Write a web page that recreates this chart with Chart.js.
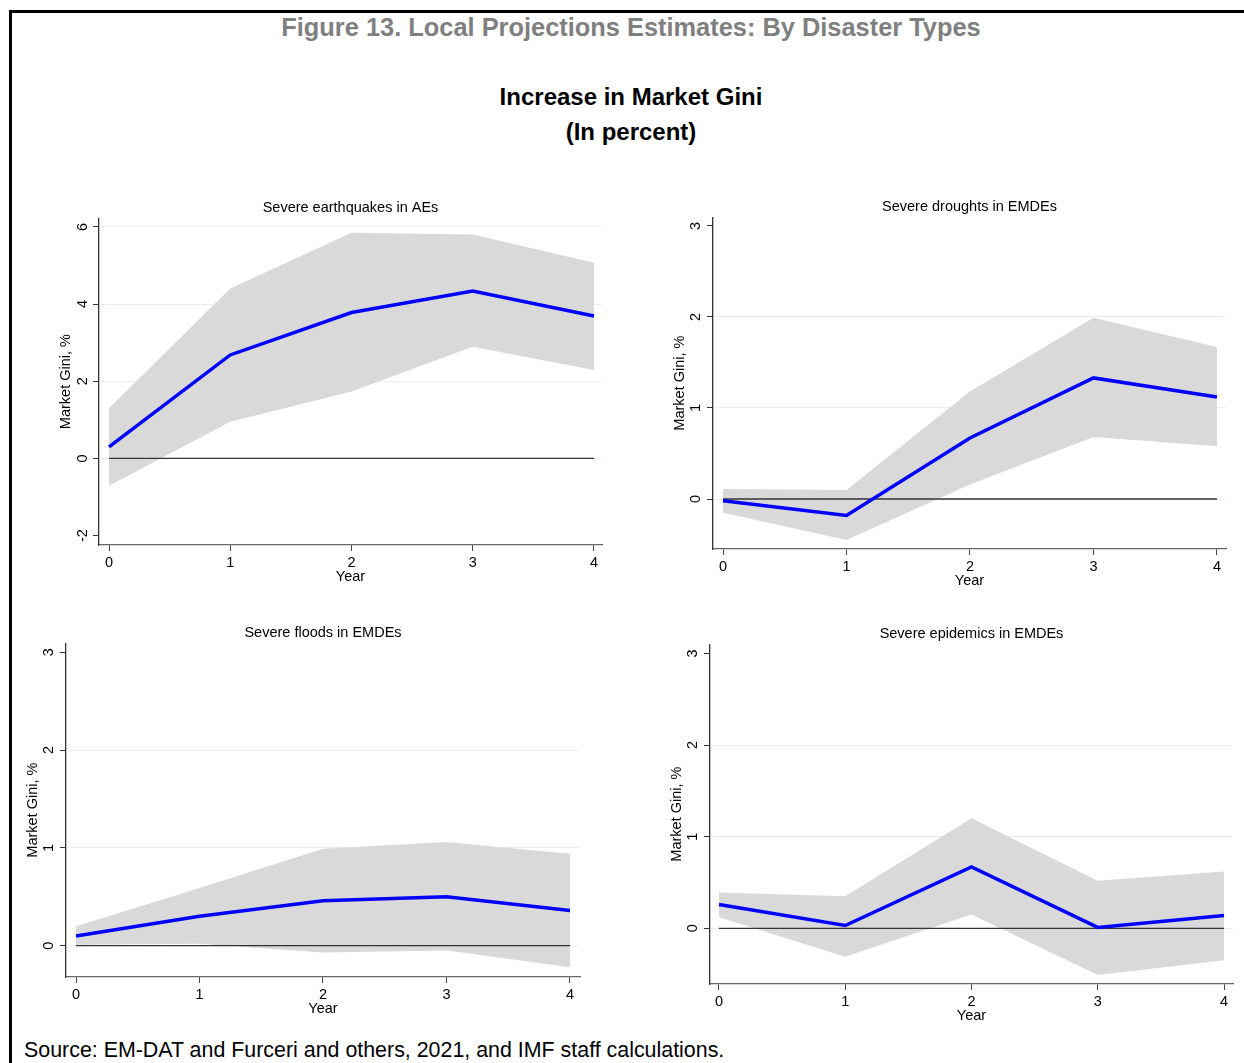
<!DOCTYPE html>
<html lang="en">
<head>
<meta charset="UTF-8">
<title>Figure 13. Local Projections Estimates: By Disaster Types</title>
<script src="https://cdn.jsdelivr.net/npm/chart.js@4.4.1/dist/chart.umd.min.js"></script>
<style>
  * { box-sizing: border-box; }
  body { margin: 0; width: 1244px; height: 1063px; overflow: hidden; background: #fff; font-family: "Liberation Sans", Arial, sans-serif; position: relative; }
  .frame { position: absolute; left: 9px; top: 10px; width: 1240px; height: 1060px; border-top: 3px solid #000; border-left: 3px solid #000; }
  .fig-title { position: absolute; left: 0; width: 1262px; top: 12px; line-height: 30px; text-align: center; font-size: 25.4px; font-weight: bold; color: #7f7f7f; }
  .main-title { position: absolute; left: 0; width: 1262px; text-align: center; font-size: 24px; font-weight: bold; color: #000; line-height: 30px; }
  .source { position: absolute; left: 24px; top: 1038px; font-size: 21.4px; line-height: 24px; color: #000; white-space: nowrap; }
  .panel { position: absolute; }
</style>
</head>
<body>
<div class="frame"></div>
<div class="fig-title">Figure 13. Local Projections Estimates: By Disaster Types</div>
<div class="main-title" style="top:82px">Increase in Market Gini</div>
<div class="main-title" style="top:117px">(In percent)</div>

<div class="panel" style="left:39px;top:199px;width:573px;height:388px"><canvas id="quakes"></canvas></div>
<div class="panel" style="left:653px;top:198px;width:583px;height:393px"><canvas id="droughts"></canvas></div>
<div class="panel" style="left:6px;top:624px;width:584px;height:395px"><canvas id="floods"></canvas></div>
<div class="panel" style="left:650px;top:625px;width:593px;height:401px"><canvas id="epidemics"></canvas></div>

<div class="source">Source: EM-DAT and Furceri and others, 2021, and IMF staff calculations.</div>

<script>
// horizon (years after the disaster)
const years = [0, 1, 2, 3, 4];
const xTicks = [0, 1, 2, 3, 4];

// Severe earthquakes in AEs
const quakeEst = [0.30, 2.68, 3.78, 4.34, 3.69];
const quakeUpper = [1.30, 4.40, 5.85, 5.80, 5.07];
const quakeLower = [-0.71, 0.95, 1.73, 2.89, 2.29];
const quakeTicks = [-2, 0, 2, 4, 6];

// Severe droughts in EMDEs
const droughtEst = [-0.02, -0.18, 0.67, 1.33, 1.12];
const droughtUpper = [0.11, 0.10, 1.18, 1.99, 1.67];
const droughtLower = [-0.15, -0.45, 0.16, 0.68, 0.58];

// Severe floods in EMDEs
const floodEst = [0.10, 0.30, 0.46, 0.50, 0.36];
const floodUpper = [0.20, 0.59, 0.99, 1.06, 0.94];
const floodLower = [0.01, 0.02, -0.07, -0.05, -0.22];

// Severe epidemics in EMDEs
const epidemicEst = [0.26, 0.03, 0.67, 0.01, 0.14];
const epidemicUpper = [0.39, 0.35, 1.20, 0.52, 0.62];
const epidemicLower = [0.12, -0.31, 0.15, -0.51, -0.35];

const emdeTicks = [0, 1, 2, 3];

Chart.defaults.font.family = '"Liberation Sans", Arial, sans-serif';
Chart.defaults.color = '#000';

const toPoints = arr => years.map((x, i) => ({ x, y: arr[i] }));

function makePanel(id, title, est, upper, lower, yTicks, opts) {
  new Chart(document.getElementById(id), {
    type: 'line',
    data: {
      datasets: [
        { data: toPoints(est), borderColor: '#0000ff', borderWidth: 3.5, pointRadius: 0, fill: false, order: 0 },
        { data: [{ x: years[0], y: 0 }, { x: years[years.length - 1], y: 0 }], borderColor: '#333', borderWidth: 1.3, pointRadius: 0, fill: false, order: 1 },
        { data: toPoints(upper), borderWidth: 0, borderColor: 'rgba(0,0,0,0)', backgroundColor: '#d9d9d9', pointRadius: 0, fill: '+1', order: 2 },
        { data: toPoints(lower), borderWidth: 0, borderColor: 'rgba(0,0,0,0)', pointRadius: 0, fill: false, order: 3 },
      ]
    },
    options: {
      responsive: true,
      maintainAspectRatio: false,
      animation: false,
      layout: { padding: { left: 0, top: 0, bottom: 0, right: 10 } },
      plugins: {
        legend: { display: false },
        tooltip: { enabled: false },
        filler: { drawTime: 'beforeDatasetsDraw' },
        // not fullSize, so the title centres over the plot area
        title: { display: true, fullSize: false, text: title, font: { size: 14.5, weight: 'normal' }, color: '#000', padding: { top: 0, bottom: 1.8 } }
      },
      scales: {
        x: {
          type: 'linear',
          min: opts.xMin, max: opts.xMax,
          afterBuildTicks: s => { s.ticks = xTicks.map(v => ({ value: v })); },
          afterFit: s => { s.height = 42; },
          grid: { drawOnChartArea: false, drawTicks: true, tickLength: 6, tickColor: '#444' },
          border: { color: '#666', width: 1.3 },
          ticks: { font: { size: 14.5 }, padding: 3, maxRotation: 0, minRotation: 0 },
          title: { display: true, text: 'Year', font: { size: 14.5 }, padding: { top: 0, bottom: 1 } }
        },
        y: {
          min: opts.yMin, max: opts.yMax,
          afterBuildTicks: s => { s.ticks = yTicks.map(v => ({ value: v })); },
          afterFit: s => { s.width = 60; },
          grid: {
            color: ctx => (opts.noGrid.includes(ctx.tick && ctx.tick.value) ? 'rgba(0,0,0,0)' : '#e6eff1'),
            tickColor: '#333', tickLength: 6, drawTicks: true
          },
          border: { color: '#333', width: 1.3 },
          ticks: { font: { size: 14.5 }, minRotation: 90, maxRotation: 90, crossAlign: 'center', padding: opts.tickPad },
          title: { display: true, text: 'Market Gini, %', font: { size: 14.5 }, padding: { top: 18.3, bottom: 0 } }
        }
      }
    }
  });
}

makePanel('quakes', 'Severe earthquakes in AEs', quakeEst, quakeUpper, quakeLower, quakeTicks,
  { xMin: -0.0825, xMax: 4.066, yMin: -2.246, yMax: 6.225, noGrid: [-2], tickPad: 4 });
makePanel('droughts', 'Severe droughts in EMDEs', droughtEst, droughtUpper, droughtLower, emdeTicks,
  { xMin: -0.081, xMax: 4.073, yMin: -0.549, yMax: 3.095, noGrid: [3], tickPad: 6.5 });
makePanel('floods', 'Severe floods in EMDEs', floodEst, floodUpper, floodLower, emdeTicks,
  { xMin: -0.081, xMax: 4.081, yMin: -0.32, yMax: 3.092, noGrid: [3], tickPad: 6.5 });
makePanel('epidemics', 'Severe epidemics in EMDEs', epidemicEst, epidemicUpper, epidemicLower, emdeTicks,
  { xMin: -0.071, xMax: 4.071, yMin: -0.608, yMax: 3.101, noGrid: [3], tickPad: 6.5 });
</script>
</body>
</html>
